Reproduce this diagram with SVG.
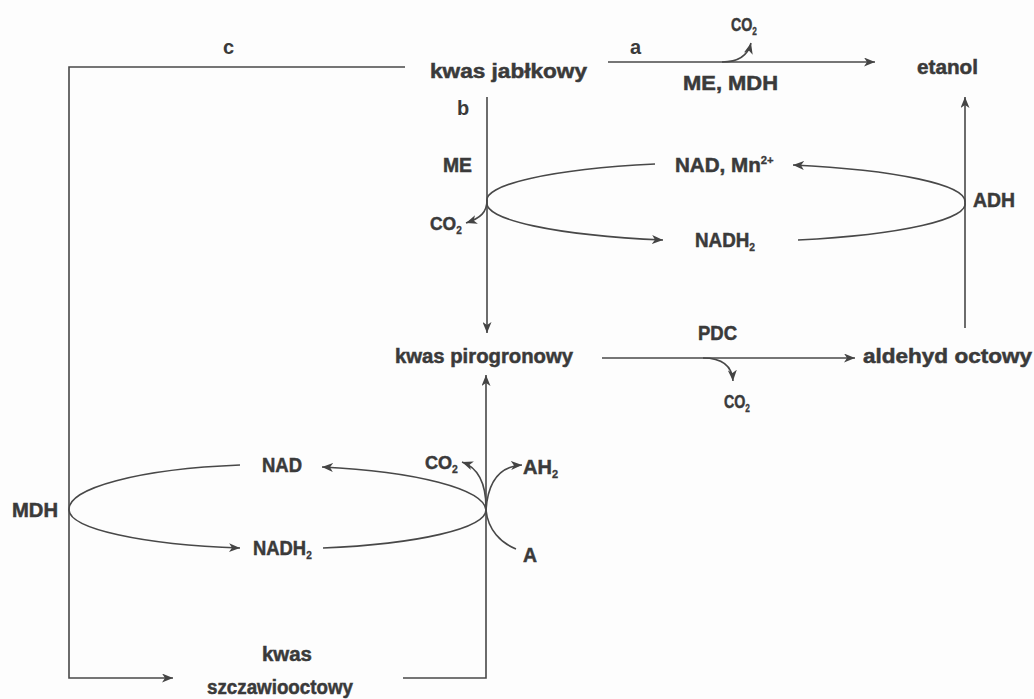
<svg xmlns="http://www.w3.org/2000/svg" width="1034" height="699" viewBox="0 0 1034 699">
<defs>
<marker id="ah" markerUnits="userSpaceOnUse" markerWidth="12" markerHeight="9" refX="11" refY="4.5" orient="auto">
<path d="M0,0 L11,4.5 L0,9 L3,4.5 z" fill="#444"/>
</marker>
<style>
.t{font-family:"Liberation Sans Narrow","Liberation Sans",Arial,sans-serif;font-weight:bold;font-size:20px;fill:#3a3a3a;stroke:#3a3a3a;stroke-width:0.5}
.m{font-size:19px}
.s{font-size:11px;stroke-width:0.3}
.l{font-family:"Liberation Sans",Arial,sans-serif;font-weight:bold;font-size:20px;fill:#3a3a3a}
.c{fill:none;stroke:#484848;stroke-width:1.6}
.a{marker-end:url(#ah)}
</style>
</defs>
<rect width="1034" height="699" fill="#fdfdfd"/>
<g id="connectors">
<path class="c a" d="M405,67 L69,67 L69,678 L173,678"/>
<path class="c a" d="M403,678 L486,678 L486,375"/>
<path class="c a" d="M487,97 L487,333"/>
<path class="c a" d="M608,62 L875,62"/>
<path class="c a" d="M722,62 C738,62 748,55 751,43"/>
<path class="c a" d="M602,358 L855,358"/>
<path class="c a" d="M703,358 C722,358 732,365 733,381"/>
<path class="c a" d="M965,328 L965,97"/>
<path class="c" d="M655,164 A239,38 0 0,0 487,202"/>
<path class="c a" d="M487,202 A239,38 0 0,0 663,240"/>
<path class="c" d="M798,240 A239,38 0 0,0 965,202"/>
<path class="c a" d="M965,202 A239,38 0 0,0 793,165"/>
<path class="c a" d="M487,200 C487,212 481,218 466,223"/>
<path class="c" d="M240,465 A207.5,45 0 0,0 69,510"/>
<path class="c a" d="M69,510 A207.5,39 0 0,0 240,548"/>
<path class="c" d="M323,548 A207.5,39 0 0,0 486,510"/>
<path class="c a" d="M486,510 A207.5,45 0 0,0 322,467"/>
<path class="c a" d="M486,508 C486,485 479,468 462,462"/>
<path class="c a" d="M486,510 C488,480 501,466 522,465"/>
<path class="c" d="M486,510 C488,530 501,543 516,549"/>
</g>
<g id="kwas-jablkowy"><text class="t" x="430" y="78" textLength="157" lengthAdjust="spacingAndGlyphs">kwas jabłkowy</text></g>
<g id="etanol"><text class="t" x="917" y="74" textLength="61" lengthAdjust="spacingAndGlyphs">etanol</text></g>
<g id="kwas-pirogronowy"><text class="t" x="395" y="363" textLength="178" lengthAdjust="spacingAndGlyphs">kwas pirogronowy</text></g>
<g id="aldehyd-octowy"><text class="t" x="863" y="363" textLength="169" lengthAdjust="spacingAndGlyphs">aldehyd octowy</text></g>
<g id="kwas-szczawiooctowy">
<text class="t" x="262" y="661" textLength="50" lengthAdjust="spacingAndGlyphs">kwas</text>
<text class="t" x="207" y="694" textLength="146" lengthAdjust="spacingAndGlyphs">szczawiooctowy</text>
</g>
<g id="labels">
<text class="l" x="223" y="54">c</text>
<text class="l" x="630" y="54">a</text>
<text class="l" x="457" y="115">b</text>
<text class="t" x="683" y="90" textLength="95" lengthAdjust="spacingAndGlyphs">ME, MDH</text>
<text class="t m" transform="translate(731,31) scale(0.75,1)">CO<tspan class="s" dy="4">2</tspan></text>
<text class="t" x="443" y="172" textLength="29" lengthAdjust="spacingAndGlyphs">ME</text>
<text class="t" transform="translate(675,172) scale(1.03,1)">NAD, Mn<tspan class="s" dy="-8">2+</tspan></text>
<text class="t" transform="translate(695,247) scale(0.94,1)">NADH<tspan class="s" dy="4">2</tspan></text>
<text class="t m" transform="translate(430,230) scale(0.92,1)">CO<tspan class="s" dy="4">2</tspan></text>
<text class="t" x="973" y="207" textLength="42" lengthAdjust="spacingAndGlyphs">ADH</text>
<text class="t" x="698" y="340" textLength="39" lengthAdjust="spacingAndGlyphs">PDC</text>
<text class="t m" transform="translate(724,408) scale(0.75,1)">CO<tspan class="s" dy="4">2</tspan></text>
<text class="t" x="12" y="517" textLength="46" lengthAdjust="spacingAndGlyphs">MDH</text>
<text class="t" x="262" y="472" textLength="40" lengthAdjust="spacingAndGlyphs">NAD</text>
<text class="t" transform="translate(253,555) scale(0.92,1)">NADH<tspan class="s" dy="4">2</tspan></text>
<text class="t m" transform="translate(425,469) scale(0.95,1)">CO<tspan class="s" dy="4">2</tspan></text>
<text class="t" transform="translate(523,474)">AH<tspan class="s" dy="4">2</tspan></text>
<text class="t" x="523" y="562" textLength="14" lengthAdjust="spacingAndGlyphs">A</text>
</g>
</svg>
